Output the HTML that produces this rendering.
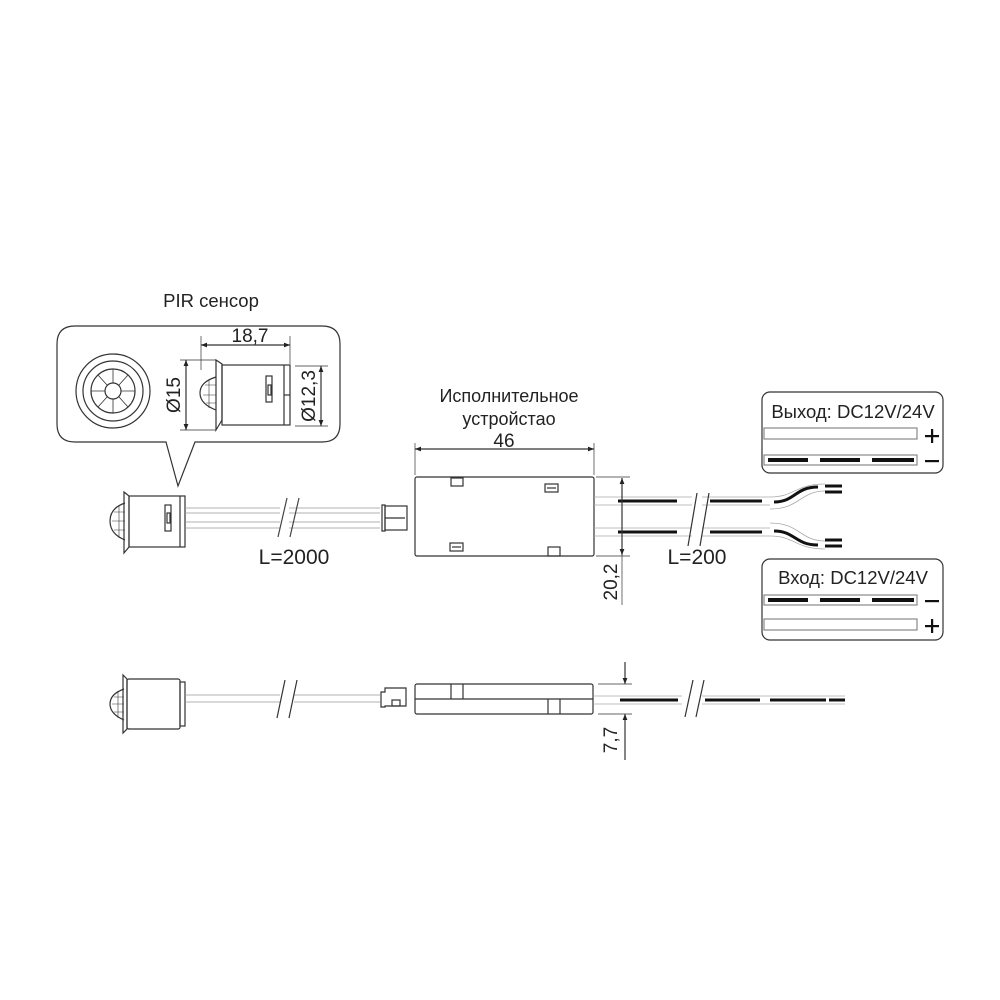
<!DOCTYPE html>
<html><head><meta charset="utf-8"><style>
html,body{margin:0;padding:0;background:#fff}
svg{display:block}
text{font-family:"Liberation Sans",Arial,sans-serif;fill:#222}
</style></head><body>
<svg width="1000" height="1000" viewBox="0 0 1000 1000" xmlns="http://www.w3.org/2000/svg">
<defs>
<marker id="ar" viewBox="0 0 10 10" refX="10" refY="5" markerWidth="8" markerHeight="6" orient="auto-start-reverse" markerUnits="userSpaceOnUse"><path d="M0,1 L10,5 L0,9 z" fill="#222"/></marker>
</defs>
<g fill="none" stroke="#333" stroke-width="1.2">
<path d="M75,326 H322 Q340,326 340,344 V424 Q340,442 322,442 H195 L178,486 L166,442 H75 Q57,442 57,424 V344 Q57,326 75,326 Z"/>
<circle cx="113" cy="391" r="37"/>
<circle cx="113" cy="391" r="30"/>
<circle cx="113" cy="391" r="22"/>
<circle cx="113" cy="391" r="8"/>
<path d="M113,369 V383 M113,399 V413 M91,391 H105 M121,391 H135 M98,375 L107,385 M128,375 L119,385 M98,407 L107,397 M128,407 L119,397" stroke-width="0.8"/>
<path d="M216,360 L222,364 V420 L216,430 Z"/>
<path d="M216,377 Q200,382 200,393 Q200,404 216,410"/>
<path d="M205,385 H216 M203,395 H216 M206,403 H216 M209,380 V408" stroke-width="0.6"/>
<rect x="222" y="365" width="68" height="60"/>
<line x1="284" y1="365" x2="284" y2="425"/>
<rect x="266" y="376" width="6" height="26"/>
<rect x="268" y="385" width="3" height="10"/>
<line x1="284" y1="395" x2="290" y2="395"/>
<line x1="201" y1="336" x2="201" y2="370" stroke-width="0.7"/>
<line x1="290" y1="336" x2="290" y2="364" stroke-width="0.7"/>
<line x1="201" y1="345" x2="290" y2="345" marker-start="url(#ar)" marker-end="url(#ar)"/>
<line x1="180" y1="360" x2="216" y2="360" stroke-width="0.7"/>
<line x1="180" y1="430" x2="216" y2="430" stroke-width="0.7"/>
<line x1="186" y1="360" x2="186" y2="430" marker-start="url(#ar)" marker-end="url(#ar)"/>
<line x1="295" y1="366" x2="328" y2="366" stroke-width="0.7"/>
<line x1="295" y1="426" x2="328" y2="426" stroke-width="0.7"/>
<line x1="321" y1="366" x2="321" y2="426" marker-start="url(#ar)" marker-end="url(#ar)"/>

<path d="M124,492 L129,496 V547 L124,553 Z"/>
<path d="M125,503 Q110,508 110,521 Q110,534 125,540"/>
<path d="M114,512 H125 M112,521 H125 M114,530 H125 M119,505 V538" stroke-width="0.6"/>
<rect x="129" y="496" width="56" height="51"/>
<line x1="180" y1="496" x2="180" y2="547"/>
<rect x="165" y="505" width="6" height="26"/>
<rect x="167" y="513" width="3" height="10"/>
<g stroke="#999" stroke-width="0.8">
<line x1="185" y1="508" x2="380" y2="508"/><line x1="185" y1="513" x2="380" y2="513"/>
<line x1="185" y1="522" x2="380" y2="522"/><line x1="185" y1="528" x2="380" y2="528"/>
</g>
<rect x="280" y="497" width="9" height="41" fill="#fff" stroke="none"/>
<line x1="278" y1="537" x2="287" y2="498" stroke="#444"/>
<line x1="290" y1="537" x2="299" y2="498" stroke="#444"/>
<path d="M382,505 H385 V531 H382 Z"/>
<rect x="385" y="506" width="22" height="24"/>
<line x1="385" y1="518" x2="405" y2="518"/>
<rect x="415" y="477" width="179" height="79" rx="2"/>
<rect x="451" y="478" width="12" height="8"/>
<rect x="545" y="484" width="13" height="8"/><line x1="547" y1="488" x2="556" y2="488"/>
<rect x="450" y="543" width="13" height="8"/><line x1="452" y1="547" x2="461" y2="547"/>
<rect x="548" y="547" width="12" height="9"/>
<line x1="415" y1="443" x2="415" y2="475" stroke-width="0.7"/>
<line x1="594" y1="443" x2="594" y2="475" stroke-width="0.7"/>
<line x1="415" y1="449" x2="594" y2="449" marker-start="url(#ar)" marker-end="url(#ar)"/>
<g stroke="#aaa" stroke-width="0.8">
<line x1="594" y1="497" x2="770" y2="497"/><line x1="594" y1="505" x2="770" y2="505"/>
<line x1="594" y1="528" x2="770" y2="528"/><line x1="594" y1="536" x2="770" y2="536"/>
<path d="M770,497 C795,497 795,484 825,484"/>
<path d="M770,509 C800,509 800,491 825,491"/>
<path d="M770,523 C800,523 800,541 825,541"/>
<path d="M770,536 C795,536 795,549 825,549"/>
</g>
<g stroke="#111" stroke-width="3">
<line x1="618" y1="501" x2="677" y2="501"/><line x1="710" y1="501" x2="762" y2="501"/>
<line x1="618" y1="532" x2="677" y2="532"/><line x1="710" y1="532" x2="762" y2="532"/>
<path d="M774,502 C795,502 795,487 818,487"/>
<path d="M774,531 C795,531 795,545 818,545"/>
<line x1="825" y1="486" x2="842" y2="486"/><line x1="825" y1="492" x2="842" y2="492"/>
<line x1="825" y1="540" x2="842" y2="540"/><line x1="825" y1="546" x2="842" y2="546"/>
</g>
<rect x="692" y="490" width="10" height="55" fill="#fff" stroke="none"/>
<line x1="688" y1="546" x2="697" y2="493"/>
<line x1="700" y1="546" x2="709" y2="493"/>
<line x1="596" y1="477" x2="630" y2="477" stroke-width="0.7"/>
<line x1="596" y1="556" x2="630" y2="556" stroke-width="0.7"/>
<line x1="622" y1="478" x2="622" y2="555" marker-start="url(#ar)" marker-end="url(#ar)"/>
<line x1="622" y1="555" x2="622" y2="605" stroke-width="0.7"/>

<rect x="762" y="392" width="181" height="81" rx="8"/>
<rect x="764" y="428" width="153" height="11" stroke="#888"/>
<rect x="764" y="455" width="153" height="10" stroke="#888"/>
<rect x="762" y="559" width="181" height="81" rx="8"/>
<rect x="764" y="595" width="153" height="10" stroke="#888"/>
<rect x="764" y="619" width="153" height="11" stroke="#888"/>
</g>
<g fill="#111">
<rect x="768" y="458" width="40" height="4"/><rect x="820" y="458" width="40" height="4"/><rect x="872" y="458" width="42" height="4"/>
<rect x="768" y="598" width="40" height="4"/><rect x="820" y="598" width="40" height="4"/><rect x="872" y="598" width="42" height="4"/>
<rect x="925" y="435" width="14" height="2.2"/><rect x="931" y="429" width="2.2" height="14"/>
<rect x="925" y="460" width="14" height="2.2"/>
<rect x="925" y="600" width="14" height="2.2"/>
<rect x="925" y="625" width="14" height="2.2"/><rect x="931" y="619" width="2.2" height="14"/>
</g>

<g fill="none" stroke="#333" stroke-width="1.2">
<path d="M123,675 L127,679 V729 L123,733 Z"/>
<path d="M124,689 Q110,694 110,704 Q110,714 124,720"/>
<path d="M114,697 H124 M112,704 H124 M114,712 H124 M118,691 V718" stroke-width="0.6"/>
<rect x="127" y="679" width="53" height="50" rx="2"/>
<rect x="180" y="682" width="5" height="44"/>
<g stroke="#999" stroke-width="0.8"><line x1="185" y1="695" x2="380" y2="695"/><line x1="185" y1="702" x2="380" y2="702"/></g>
<rect x="280" y="680" width="14" height="40" fill="#fff" stroke="none"/>
<line x1="277" y1="718" x2="285" y2="680"/><line x1="289" y1="718" x2="297" y2="680"/>
<path d="M381,692 H385 V688 H406 V706 H385 V707 H381 Z"/>
<rect x="392" y="700" width="8" height="6"/>
<rect x="415" y="684" width="178" height="30" rx="2"/>
<line x1="415" y1="699" x2="593" y2="699"/>
<line x1="451" y1="684" x2="451" y2="699"/><line x1="463" y1="684" x2="463" y2="699"/>
<line x1="548" y1="699" x2="548" y2="714"/><line x1="560" y1="699" x2="560" y2="714"/>
<g stroke="#aaa" stroke-width="0.8"><line x1="593" y1="696" x2="845" y2="696"/><line x1="593" y1="704" x2="845" y2="704"/></g>
<g stroke="#111" stroke-width="3"><line x1="620" y1="700" x2="678" y2="700"/><line x1="705" y1="700" x2="760" y2="700"/><line x1="770" y1="700" x2="826" y2="700"/><line x1="829" y1="700" x2="845" y2="700"/></g>
<rect x="682" y="680" width="20" height="40" fill="#fff" stroke="none"/>
<line x1="685" y1="717" x2="693" y2="680"/><line x1="696" y1="717" x2="704" y2="680"/>
<line x1="598" y1="684" x2="632" y2="684" stroke-width="0.7"/>
<line x1="598" y1="714" x2="632" y2="714" stroke-width="0.7"/>
<line x1="625" y1="662" x2="625" y2="684" marker-end="url(#ar)"/>
<line x1="625" y1="760" x2="625" y2="714" marker-end="url(#ar)"/>
</g>

<text x="211" y="307" font-size="18.5" text-anchor="middle">PIR сенсор</text>
<text x="250" y="342" font-size="19" text-anchor="middle">18,7</text>
<text transform="translate(180,395) rotate(-90)" font-size="19" text-anchor="middle">Ø15</text>
<text transform="translate(315,396) rotate(-90)" font-size="19" text-anchor="middle">Ø12,3</text>
<text x="294" y="564" font-size="21" text-anchor="middle">L=2000</text>
<text x="509" y="402" font-size="18" text-anchor="middle">Исполнительное</text>
<text x="509" y="425" font-size="18" text-anchor="middle">устройстао</text>
<text x="504" y="447" font-size="19" text-anchor="middle">46</text>
<text x="697" y="564" font-size="21" text-anchor="middle">L=200</text>
<text transform="translate(617,582) rotate(-90)" font-size="19" text-anchor="middle">20,2</text>
<text transform="translate(617,740) rotate(-90)" font-size="19" text-anchor="middle">7,7</text>
<text x="853" y="418" font-size="18.5" text-anchor="middle">Выход: DC12V/24V</text>
<text x="853" y="584" font-size="18.5" text-anchor="middle">Вход: DC12V/24V</text>
</svg>
</body></html>
